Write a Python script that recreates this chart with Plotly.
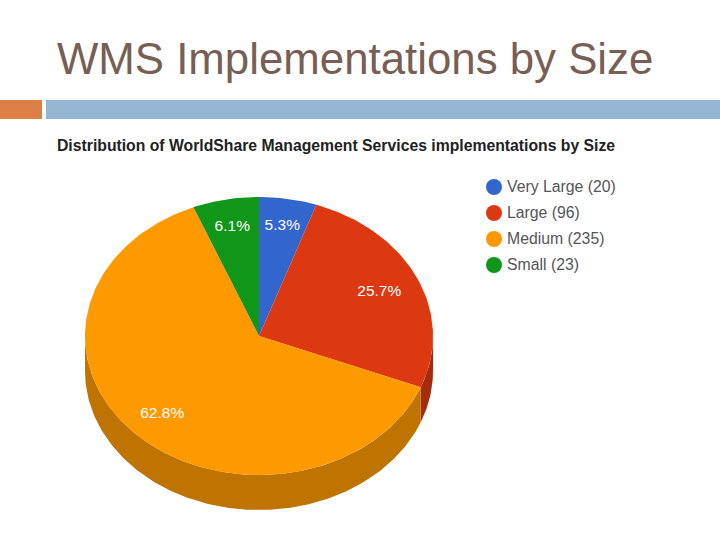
import numpy as np
import plotly.graph_objects as go

categories = ["Very Large", "Large", "Medium", "Small"]
counts = [20, 96, 235, 23]
colors = ["#3366cc", "#dc3912", "#ff9900", "#109618"]
side_colors = ["#264d99", "#a52b0e", "#bf7300", "#0c7112"]

page_title = "WMS Implementations by Size"
chart_title = "Distribution of WorldShare Management Services implementations by Size"

# pie geometry in page pixels
cx, cy = 259, 336
rx, ry = 174, 139
depth = 35

total = sum(counts)
cum = np.cumsum([0] + counts) / total * 2 * np.pi


def rim(a0, a1, dy=0):
    #angle is clockwise from the top of the ellipse
    n = max(int((a1 - a0) * 60), 2)
    t = np.linspace(a0, a1, n)
    return cx + rx * np.sin(t), cy - ry * np.cos(t) + dy


fig = go.Figure()

#Side wall first, only the front half of the rim shows
for i in range(len(counts)):
    a0 = max(cum[i], np.pi / 2)
    a1 = min(cum[i + 1], 3 * np.pi / 2)
    if a1 <= a0:
        continue
    x1, y1 = rim(a0, a1)
    x2, y2 = rim(a0, a1, depth)
    fig.add_trace(go.Scatter(x=np.r_[x1, x2[::-1]], y=np.r_[y1, y2[::-1]], mode="lines",
                             fill="toself", fillcolor=side_colors[i], line=dict(width=0),
                             showlegend=False, hoverinfo="skip"))

#Top face
for i in range(len(counts)):
    x1, y1 = rim(cum[i], cum[i + 1])
    fig.add_trace(go.Scatter(x=np.r_[cx, x1, cx], y=np.r_[cy, y1, cy], mode="lines",
                             fill="toself", fillcolor=colors[i], line=dict(width=0),
                             showlegend=False, hoverinfo="skip"))

#Percent labels
mid = (cum[:-1] + cum[1:]) / 2
label_r = np.array([0.8, 0.76, 0.79, 0.8])
fig.add_trace(go.Scatter(x=cx + rx * label_r * np.sin(mid), y=cy - ry * label_r * np.cos(mid),
                         mode="text", text=[f"{c / total * 100:.1f}%" for c in counts],
                         textposition="middle center",
                         textfont=dict(family="Liberation Sans", size=15.5, color="white"),
                         showlegend=False, hoverinfo="skip"))

#Legend, drawn by hand since the native one can't get this tight
legend_y = [188 + 26 * i for i in range(len(categories))]
fig.add_trace(go.Scatter(x=[494] * len(categories), y=[v - 1 for v in legend_y], mode="markers",
                         marker=dict(color=colors, size=16, symbol="circle"),
                         showlegend=False, hoverinfo="skip"))
fig.add_trace(go.Scatter(x=[507] * len(categories), y=legend_y, mode="text",
                         text=[f"{n} ({c})" for n, c in zip(categories, counts)],
                         textposition="middle right",
                         textfont=dict(family="Liberation Sans", size=15.8, color="#555555"),
                         showlegend=False, hoverinfo="skip"))

fig.add_shape(type="rect", x0=0, x1=42, y0=100, y1=119, fillcolor="#dd8047", line_width=0)
fig.add_shape(type="rect", x0=46, x1=720, y0=100, y1=119, fillcolor="#94b6d2", line_width=0)

fig.add_annotation(x=55, y=58, text=page_title, showarrow=False, xanchor="left", yanchor="middle",
                   font=dict(family="Liberation Sans", size=43.8, color="#775f55"))
fig.add_annotation(x=55, y=145, text="<b>" + chart_title + "</b>", showarrow=False,
                   xanchor="left", yanchor="middle",
                   font=dict(family="Liberation Sans", size=15.75, color="#222222"))

fig.update_layout(
    width=720, height=540, margin=dict(l=0, r=0, t=0, b=0),
    paper_bgcolor="white", plot_bgcolor="white", showlegend=False,
    xaxis=dict(range=[0, 720], visible=False, fixedrange=True),
    yaxis=dict(range=[540, 0], visible=False, fixedrange=True),
)

#page body has a default margin that pushes the plot off by 8px
fig.write_html("out.html", post_script="document.body.style.margin='0';",
               config={"displayModeBar": False})
